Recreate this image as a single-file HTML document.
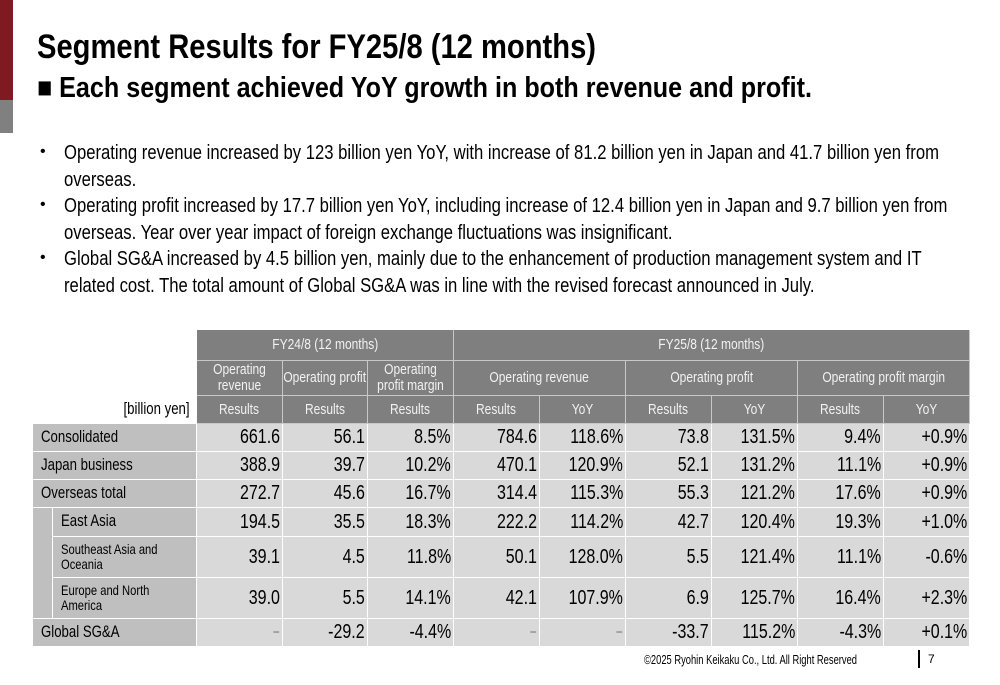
<!DOCTYPE html>
<html><head><meta charset="utf-8"><style>
*{margin:0;padding:0;box-sizing:border-box}
body{width:1000px;height:685px;background:#fff;position:relative;overflow:hidden;font-family:"Liberation Sans",sans-serif;color:#000}
.abs{position:absolute;white-space:nowrap}
.fit{transform-origin:0 50%;display:inline-block}
.title{left:37px;top:28px;font-size:34px;font-weight:bold}
.sub{left:37px;top:72px;font-size:29px;font-weight:bold}
.bl{left:64px;font-size:20px;line-height:26.5px}
.dot{left:40px;font-size:16px}
.c{position:absolute;display:flex;align-items:center;border-right:1px solid #fff;border-bottom:1px solid #fff;white-space:nowrap;line-height:1.05;overflow:visible}
.c span{display:inline-block;transform:scaleX(0.8)}
.h{background:#7f7f7f;color:#f2f2f2;justify-content:center;text-align:center;font-size:15px;border-color:#c8c8c8}
.h span{transform-origin:50% 50%}
.lab{background:#bfbfbf;padding-left:8px;font-size:16.5px}
.lab span{transform-origin:0 50%}
.sm{font-size:14px}
.sm span{white-space:normal}
.d{background:#d9d9d9;justify-content:flex-end;padding-right:2px;font-size:20px}
.d span{transform-origin:100% 50%}
</style></head><body>
<div class="abs" style="left:0;top:0;width:13px;height:100px;background:#7f1a22"></div>
<div class="abs" style="left:0;top:100px;width:13px;height:33px;background:#808080"></div>
<div class="abs title"><span class="fit" data-w="559">Segment Results for FY25/8 (12 months)</span></div>
<div class="abs sub"><span class="fit" data-w="775">■ Each segment achieved YoY growth in both revenue and profit.</span></div>
<div>
<div class="abs dot" style="top:143px">•</div>
<div class="abs bl" style="top:140px"><span class="fit bf" id="b1">Operating revenue increased by 123 billion yen YoY, with increase of 81.2 billion yen in Japan and 41.7 billion yen from</span></div>
<div class="abs bl" style="top:166.5px"><span class="fit bf">overseas.</span></div>
<div class="abs dot" style="top:196px">•</div>
<div class="abs bl" style="top:193px"><span class="fit bf">Operating profit increased by 17.7 billion yen YoY, including increase of 12.4 billion yen in Japan and 9.7 billion yen from</span></div>
<div class="abs bl" style="top:219.5px"><span class="fit bf">overseas. Year over year impact of foreign exchange fluctuations was insignificant.</span></div>
<div class="abs dot" style="top:249px">•</div>
<div class="abs bl" style="top:246px"><span class="fit bf">Global SG&amp;A increased by 4.5 billion yen, mainly due to the enhancement of production management system and IT</span></div>
<div class="abs bl" style="top:272.5px"><span class="fit bf">related cost. The total amount of Global SG&amp;A was in line with the revised forecast announced in July.</span></div>
</div>
<div id="tbl"></div>
<div class="abs" style="left:644px;top:653px;font-size:12.5px"><span class="fit" data-w="213">©2025 Ryohin Keikaku Co., Ltd. All Right Reserved</span></div>
<div class="abs" style="left:918px;top:650px;width:2px;height:18px;background:#000"></div>
<div class="abs" style="left:928px;top:652px;font-size:12px">7</div>
<script>
const rowLabels=["Consolidated","Japan business","Overseas total","East Asia","Southeast Asia and Oceania","Europe and North America","Global SG&A"];
const rowNames=["consolidated","japan","overseas","east-asia","sea-oceania","europe-na","global-sga"];
const fy24Rev=["661.6","388.9","272.7","194.5","39.1","39.0","\u2212"];
const fy24Op=["56.1","39.7","45.6","35.5","4.5","5.5","-29.2"];
const fy24Margin=["8.5%","10.2%","16.7%","18.3%","11.8%","14.1%","-4.4%"];
const fy25Rev=["784.6","470.1","314.4","222.2","50.1","42.1","\u2212"];
const fy25RevYoY=["118.6%","120.9%","115.3%","114.2%","128.0%","107.9%","\u2212"];
const fy25Op=["73.8","52.1","55.3","42.7","5.5","6.9","-33.7"];
const fy25OpYoY=["131.5%","131.2%","121.2%","120.4%","121.4%","125.7%","115.2%"];
const fy25Margin=["9.4%","11.1%","17.6%","19.3%","11.1%","16.4%","-4.3%"];
const fy25MarginYoY=["+0.9%","+0.9%","+0.9%","+1.0%","-0.6%","+2.3%","+0.1%"];
const cols=[fy24Rev,fy24Op,fy24Margin,fy25Rev,fy25RevYoY,fy25Op,fy25OpYoY,fy25Margin,fy25MarginYoY];
const colNames=["fy24-revenue","fy24-op-profit","fy24-margin","fy25-revenue","fy25-revenue-yoy","fy25-op-profit","fy25-op-profit-yoy","fy25-margin","fy25-margin-yoy"];
const X=[197,283,368,454,540,626,712,798,884,970];
const Y=[424,452,480,508,537,578,619,647];
const T=document.getElementById('tbl');
function cell(cls,l,t,w,h,txt,wrapW){const d=document.createElement('div');d.className='c '+cls;d.style.left=l+'px';d.style.top=t+'px';d.style.width=w+'px';d.style.height=h+'px';const s=document.createElement('span');s.textContent=txt;if(wrapW){s.style.width=wrapW+'px';s.style.whiteSpace='normal';}d.appendChild(s);T.appendChild(d);return d;}
let e;
e=cell('h',197,330,257,31,'FY24/8 (12 months)');


e=cell('h',454,330,516,31,'FY25/8 (12 months)');


const h2=[["Operating revenue",197,86,90],["Operating profit",283,85,0],["Operating profit margin",368,86,115],["Operating revenue",454,172,0],["Operating profit",626,172,0],["Operating profit margin",798,172,0]];
h2.forEach((a,i)=>{e=cell('h',a[1],361,a[2],35,a[0],a[3]);

});
const h3=["Results","Results","Results","Results","YoY","Results","YoY","Results","YoY"];
h3.forEach((t,i)=>{e=cell('h',X[i],396,X[i+1]-X[i],28,t);

});
e=cell('',33,396,164,28,'[billion yen]');e.style.justifyContent='flex-end';e.style.paddingRight='7px';e.style.fontSize='16.5px';e.style.border='none';e.firstChild.style.transformOrigin='100% 50%';


e=cell('lab',33,508,20,111,'');


rowLabels.forEach((lab,r)=>{const sub=r>=3&&r<=5;const x0=sub?53:33;const small=(r==4||r==5);
e=cell('lab'+(small?' sm':''),x0,Y[r],197-x0,Y[r+1]-Y[r],lab,small?150:0);


cols.forEach((col,c)=>{e=cell('d',X[c],Y[r],X[c+1]-X[c],Y[r+1]-Y[r],col[r]);if(col[r]=='\u2212'){e.style.color='#777';e.style.fontSize='15px';}

});});
document.querySelectorAll('.fit[data-w]').forEach(s=>{const w=s.getBoundingClientRect().width;s.style.transform='scaleX('+(+s.dataset.w/w)+')';});
const b1=document.getElementById('b1');const bs=875/b1.getBoundingClientRect().width;
document.querySelectorAll('.bf').forEach(s=>{s.style.transform='scaleX('+bs+')';});
</script>
</body></html>
